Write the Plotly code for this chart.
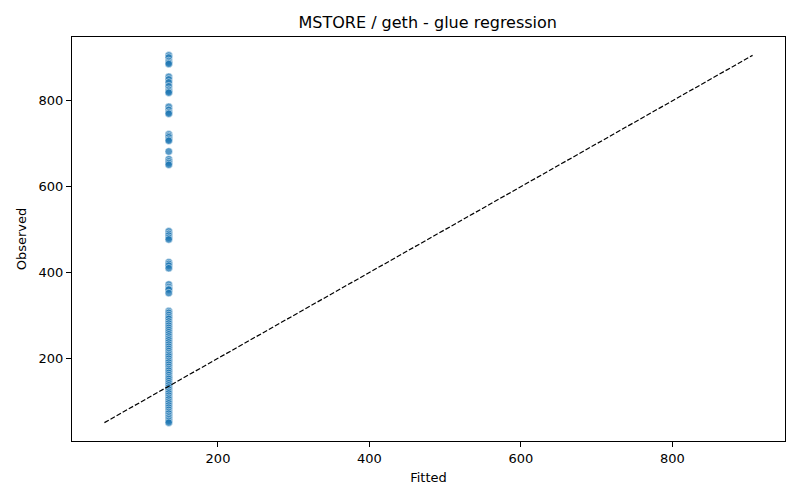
"""MSTORE / geth - glue regression: observed vs fitted"""

import plotly.graph_objects as go

observed = [
    906, 901, 893, 889, 886,
    856, 850, 843, 834, 826, 822, 819,
    786, 779, 773, 770,
    722, 718, 715, 710, 707,
    682, 664, 659, 655, 651,
    496, 490, 486, 481, 477,
    424, 420, 416, 410,
    372, 366, 362, 360, 352,
    310, 306, 301, 296, 292, 286, 281, 276, 271, 266, 261, 256, 251, 246,
    242, 237, 232, 227, 222, 217, 212, 208, 204, 199, 194, 190, 185, 180,
    175, 171, 166, 161, 156, 152, 147, 142, 137, 132, 127, 122, 118, 113,
    108, 104, 99, 95, 90, 85, 80, 75, 71, 66, 62, 58, 54, 50,
]
fitted_value = 135.0
fitted = [fitted_value] * len(observed)

x_ticks = [200, 400, 600, 800]
y_ticks = [200, 400, 600, 800]

# Línea de referencia y = x
lo = min(observed + fitted)
hi = max(observed + fitted)


def margen(vmin, vmax, frac=0.05):
    span = vmax - vmin
    return [vmin - span * frac, vmax + span * frac]


fig = go.Figure()

fig.add_trace(go.Scatter(
    x=fitted, y=observed, mode='markers',
    marker=dict(size=7.5, color='rgba(31,119,180,0.76)',
                line=dict(color='white', width=0.5)),
    showlegend=False,
))

fig.add_trace(go.Scatter(
    x=[lo, hi], y=[lo, hi], mode='lines',
    line=dict(color='black', width=1.2, dash='5px,2px'),
    showlegend=False,
))

axis_style = dict(
    showgrid=False, zeroline=False, showline=True, mirror=True,
    linecolor='black', linewidth=1, ticks='outside', ticklen=5,
    tickcolor='black', automargin=False,
    tickfont=dict(family='DejaVu Sans', size=13, color='black'),
)

# la página añade 8px de margen, así que la figura es 792x492
fig.update_layout(
    width=792, height=492,
    paper_bgcolor='white', plot_bgcolor='white',
    margin=dict(l=64, r=15, t=29, b=59),
    font=dict(family='DejaVu Sans', color='black'),
    title=dict(text='MSTORE / geth - glue regression', x=0.53, xanchor='center',
               y=0.971, yanchor='middle',
               font=dict(family='DejaVu Sans', size=16, color='black')),
    xaxis=dict(axis_style, range=margen(lo, hi), tickvals=x_ticks,
               title=dict(text='Fitted', font=dict(size=13), standoff=8)),
    yaxis=dict(axis_style, range=margen(lo, hi), tickvals=y_ticks,
               title=dict(text='Observed', font=dict(size=13), standoff=9)),
)

fig.write_html('out.html')
